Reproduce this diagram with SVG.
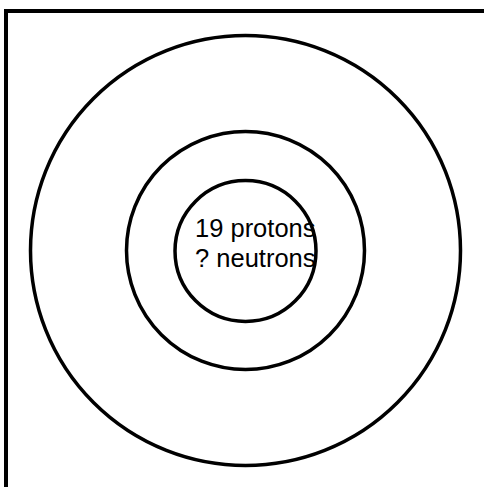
<svg xmlns="http://www.w3.org/2000/svg" width="484" height="487" viewBox="0 0 484 487">
<style>
.ring{fill:none;stroke:#000;stroke-width:3.5}
.lbl{font-family:"Liberation Sans",Arial,sans-serif;font-size:25.5px;fill:#000}
</style>
<rect x="0" y="0" width="484" height="487" fill="#fff"/>
<g id="frame"><rect x="6" y="11" width="520" height="520" fill="none" stroke="#000" stroke-width="4"/></g>
<g id="outer-shell"><circle class="ring" cx="245.5" cy="250.5" r="215"/></g>
<g id="inner-shell"><circle class="ring" cx="245.5" cy="250.5" r="119"/></g>
<g id="nucleus"><circle class="ring" cx="245.5" cy="251" r="70.5"/>
<text class="lbl" x="195" y="237">19 protons</text>
<text class="lbl" x="195" y="267">? neutrons</text></g>
</svg>
